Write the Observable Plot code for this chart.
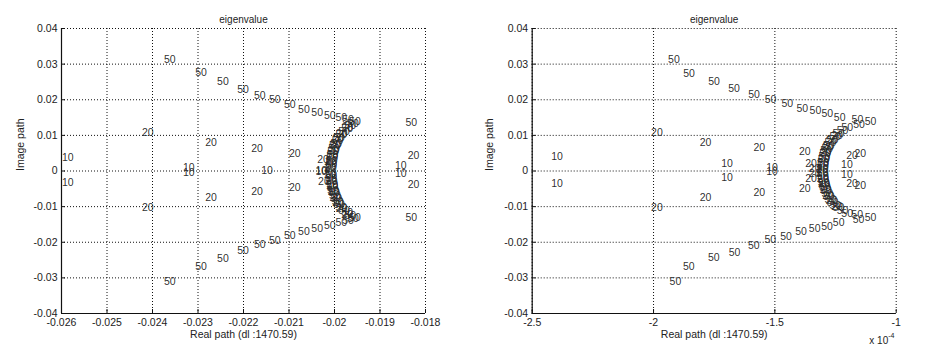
<!DOCTYPE html>
<html><head><meta charset="utf-8">
<script src="https://cdn.jsdelivr.net/npm/d3@7"></script>
<script src="https://cdn.jsdelivr.net/npm/@observablehq/plot@0.6"></script>
<style>
body{margin:0;background:#fff;}
#wrap{display:flex;width:938px;height:351px;overflow:hidden;}
svg text{-webkit-font-smoothing:antialiased;}
</style></head><body><div id="wrap"></div>
<script>
// ---------- shared text / ticks ----------
const titleText = "eigenvalue";
const xLabelText = "Real path (dl :1470.59)";
const yLabelText = "Image path";
const yTicks = [-0.04, -0.03, -0.02, -0.01, 0, 0.01, 0.02, 0.03, 0.04];
const leftXTicks = [-0.026, -0.025, -0.024, -0.023, -0.022, -0.021, -0.02, -0.019, -0.018];
const rightXTicks = [-2.5, -2, -1.5, -1];   // units of 1e-4

// ---------- left panel (x in raw units) ----------
const left50Upper = [[-0.02375,0.0313],[-0.02306,0.0276],[-0.02258,0.0252],[-0.02214,0.0229],[-0.02177,0.0211],[-0.02144,0.0200],[-0.02111,0.0187],[-0.0208,0.0173],[-0.02051,0.0163],[-0.02023,0.0156],[-0.01998,0.0150],[-0.01983,0.0144],[-0.01968,0.0139]];
const left50Lower = [[-0.02375,-0.0310],[-0.02306,-0.0269],[-0.02258,-0.0245],[-0.02214,-0.0223],[-0.02177,-0.0207],[-0.02144,-0.0195],[-0.02111,-0.0182],[-0.0208,-0.0170],[-0.02051,-0.0162],[-0.02023,-0.0152],[-0.01998,-0.0145],[-0.01983,-0.0139],[-0.01968,-0.0132]];
const leftArc50 = [[-0.01972,0.0134],[-0.01978,0.0126],[-0.01985,0.0118],[-0.01992,0.0110],[-0.01998,0.0102],[-0.02003,0.0094],[-0.02006,0.0086],[-0.02009,0.0078],[-0.02012,0.0070],[-0.02014,0.0062],[-0.02016,0.0054],[-0.02017,0.0046],[-0.02018,0.0038],[-0.02019,0.0030],[-0.02020,0.0022],[-0.02020,0.0014],[-0.02021,0.0006],
  [-0.02021,-0.0006],[-0.02020,-0.0014],[-0.02020,-0.0022],[-0.02019,-0.0030],[-0.02018,-0.0038],[-0.02017,-0.0046],[-0.02016,-0.0054],[-0.02014,-0.0062],[-0.02012,-0.0070],[-0.02009,-0.0078],[-0.02006,-0.0086],[-0.02003,-0.0094],[-0.01998,-0.0102],[-0.01992,-0.0110],[-0.01985,-0.0118],[-0.01978,-0.0126],[-0.01972,-0.0134]];
const leftArc20 = [[-0.01985,0.0122],[-0.01997,0.0106],[-0.02005,0.0090],[-0.02011,0.0074],[-0.02015,0.0058],[-0.02018,0.0042],[-0.02021,0.0026],[-0.02023,0.0010],
  [-0.02023,-0.0010],[-0.02021,-0.0026],[-0.02018,-0.0042],[-0.02015,-0.0058],[-0.02011,-0.0074],[-0.02005,-0.0090],[-0.01997,-0.0106],[-0.01985,-0.0122]];
const left50Other = [[-0.01844,0.0135],[-0.01844,-0.0130]];
const left20 = [[-0.02423,0.0107],[-0.02423,-0.0104],[-0.02284,0.0079],[-0.02284,-0.0074],[-0.02183,0.0062],[-0.02183,-0.0058],[-0.02100,0.0049],[-0.02100,-0.0046],[-0.02038,0.0031],[-0.02036,-0.0030],[-0.01839,0.0043],[-0.01839,-0.0037]];
const left10 = [[-0.02599,0.0038],[-0.02599,-0.0033],[-0.02333,0.0009],[-0.02333,-0.0005],[-0.02161,0.0001],[-0.02042,0.0002],[-0.02042,-0.0002],[-0.01867,0.0014],[-0.01867,-0.0007]];

// ---------- right panel (x in units of 1e-4) ----------
const right50Upper = [[-1.940,0.0312],[-1.878,0.0274],[-1.775,0.0251],[-1.692,0.0232],[-1.610,0.0213],[-1.542,0.0199],[-1.473,0.0190],[-1.411,0.0176],[-1.357,0.0169],[-1.308,0.0160],[-1.257,0.0151],[-1.226,0.0123],[-1.184,0.0143],[-1.177,0.0129],[-1.130,0.0138]];
const right50Lower = [[-1.934,-0.0310],[-1.879,-0.0269],[-1.776,-0.0244],[-1.690,-0.0228],[-1.611,-0.0210],[-1.543,-0.0193],[-1.478,-0.0184],[-1.416,-0.0170],[-1.360,-0.0163],[-1.309,-0.0156],[-1.261,-0.0145],[-1.226,-0.0120],[-1.185,-0.0123],[-1.179,-0.0137],[-1.130,-0.0130]];
const rightArc50 = [[-1.245,0.0112],[-1.262,0.0104],[-1.275,0.0096],[-1.286,0.0088],[-1.295,0.0080],[-1.302,0.0072],[-1.308,0.0064],[-1.313,0.0056],[-1.317,0.0048],[-1.320,0.0040],[-1.323,0.0032],[-1.325,0.0024],[-1.326,0.0016],[-1.327,0.0008],
  [-1.327,-0.0008],[-1.326,-0.0016],[-1.325,-0.0024],[-1.323,-0.0032],[-1.320,-0.0040],[-1.317,-0.0048],[-1.313,-0.0056],[-1.308,-0.0064],[-1.302,-0.0072],[-1.295,-0.0080],[-1.286,-0.0088],[-1.275,-0.0096],[-1.262,-0.0104],[-1.245,-0.0112]];
const rightArc20 = [[-1.268,0.0100],[-1.290,0.0084],[-1.305,0.0068],[-1.315,0.0052],[-1.322,0.0036],[-1.327,0.0020],[-1.329,0.0004],
  [-1.329,-0.0004],[-1.327,-0.0020],[-1.322,-0.0036],[-1.315,-0.0052],[-1.305,-0.0068],[-1.290,-0.0084],[-1.268,-0.0100]];
const right20 = [[-2.010,0.0107],[-2.010,-0.0104],[-1.810,0.0079],[-1.810,-0.0076],[-1.588,0.0066],[-1.588,-0.0061],[-1.401,0.0054],[-1.401,-0.0049],[-1.375,0.0020],[-1.375,-0.0020],[-1.360,0.0007],[-1.360,-0.0007],[-1.206,0.0042],[-1.172,0.0048],[-1.206,-0.0036],[-1.172,-0.0042]];
const right10 = [[-2.422,0.0040],[-2.422,-0.0036],[-1.721,0.0021],[-1.721,-0.0018],[-1.536,0.0009],[-1.536,-0.0003],[-1.227,0.0017],[-1.227,-0.0011]];

function rows(groups) {
  const out = [];
  for (const [arr, label] of groups) for (const [x, y] of arr) out.push({x, y, label});
  return out;
}
const leftPoints = rows([[left50Upper,"50"],[left50Lower,"50"],[leftArc20,"20"],[leftArc50,"50"],[left50Other,"50"],[left20,"20"],[left10,"10"]]);
const rightPoints = rows([[right50Upper,"50"],[right50Lower,"50"],[rightArc20,"20"],[rightArc50,"50"],[right20,"20"],[right10,"10"]]);

const FONT = "'Liberation Sans', Arial, Helvetica, sans-serif";
const fmt = d => String(Math.round(d * 1000) / 1000);

function panel({points, xDomain, xTicks, marginLeft, marginRight, exponent}) {
  const W = 469, H = 351, mt = 28, mb = 38;
  const plotW = W - marginLeft - marginRight, plotH = H - mt - mb;
  const marks = [
    Plot.ruleX(xTicks, {stroke: "#111", strokeWidth: 1, strokeDasharray: "1,2"}),
    Plot.ruleY(yTicks, {stroke: "#111", strokeWidth: 1, strokeDasharray: "1,2"}),
    Plot.ruleX(xTicks, {stroke: "#111", insetTop: plotH - 4}),
    Plot.ruleY(yTicks, {stroke: "#111", insetRight: plotW - 4}),
    Plot.ruleX([xDomain[0]], {stroke: "#111", strokeWidth: 1.2}),
    Plot.ruleY([-0.04], {stroke: "#111", strokeWidth: 1.2}),
    Plot.text(points, {x: "x", y: "y", text: "label", textAnchor: "start", fontSize: 10.5, fill: "#2a2a2a", fillOpacity: 0.97}),
    Plot.axisX({ticks: xTicks, tickSize: 0, tickPadding: 5, tickFormat: fmt, label: null, fontSize: 10.5, fill: "#222"}),
    Plot.axisY({ticks: yTicks, tickSize: 0, tickPadding: 4, tickFormat: d => String(Math.round(d * 100) / 100), label: null, fontSize: 10.5, fill: "#222"}),
    Plot.text([titleText], {frameAnchor: "top", dy: -13, fontSize: 10, fill: "#222"}),
    Plot.text([xLabelText], {frameAnchor: "bottom", dy: 24, fontSize: 10.5, fill: "#222"}),
    Plot.text([yLabelText], {frameAnchor: "left", dx: -(marginLeft - 20), rotate: -90, fontSize: 10.5, fill: "#222"})
  ];
  if (exponent) {
    marks.push(Plot.text(["x 10"], {frameAnchor: "bottom-right", textAnchor: "end", dx: -8, dy: 30, fontSize: 10, fill: "#222"}));
    marks.push(Plot.text([exponent], {frameAnchor: "bottom-right", textAnchor: "start", dx: -8, dy: 24, fontSize: 7, fill: "#222"}));
  }
  return Plot.plot({
    width: W, height: H,
    marginLeft, marginRight, marginTop: mt, marginBottom: mb,
    style: {fontFamily: FONT, background: "#fff", overflow: "visible"},
    x: {domain: xDomain, type: "linear"},
    y: {domain: [-0.04, 0.04], type: "linear"},
    marks
  });
}

const wrap = document.getElementById("wrap");
wrap.appendChild(panel({points: leftPoints, xDomain: [-0.026, -0.018], xTicks: leftXTicks, marginLeft: 61, marginRight: 44}));
wrap.appendChild(panel({points: rightPoints, xDomain: [-2.5, -1], xTicks: rightXTicks, marginLeft: 62.7, marginRight: 42.3, exponent: "-4"}));
</script>
</body></html>
